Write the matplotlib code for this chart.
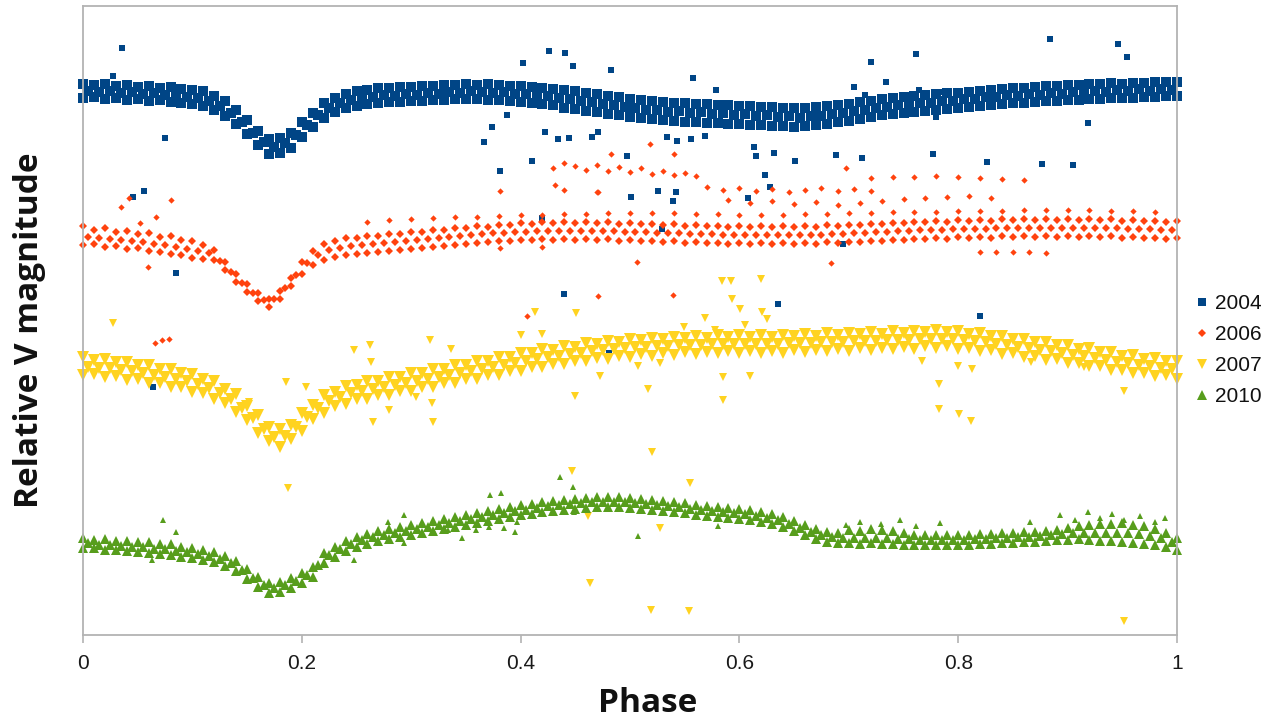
import matplotlib
matplotlib.use("Agg")
import matplotlib.pyplot as plt
from matplotlib.lines import Line2D

# ---------------------------------------------------------------
# Data.
# Phase grid of the dense bands; magnitudes in arbitrary relative
# units (larger = fainter, axis inverted), one curve per season.
# ---------------------------------------------------------------
phase_a = [0.00, 0.01, 0.02, 0.03, 0.04, 0.05, 0.06, 0.07, 0.08, 0.09,
           0.10, 0.11, 0.12, 0.13, 0.14, 0.15, 0.16, 0.17, 0.18, 0.19,
           0.20, 0.21, 0.22, 0.23, 0.24, 0.25, 0.26, 0.27, 0.28, 0.29,
           0.30, 0.31, 0.32, 0.33, 0.34, 0.35, 0.36, 0.37, 0.38, 0.39,
           0.40, 0.41, 0.42, 0.43, 0.44, 0.45, 0.46, 0.47, 0.48, 0.49,
           0.50, 0.51, 0.52, 0.53, 0.54, 0.55, 0.56, 0.57, 0.58, 0.59,
           0.60, 0.61, 0.62, 0.63, 0.64, 0.65, 0.66, 0.67, 0.68, 0.69,
           0.70, 0.71, 0.72, 0.73, 0.74, 0.75, 0.76, 0.77, 0.78, 0.79,
           0.80, 0.81, 0.82, 0.83, 0.84, 0.85, 0.86, 0.87, 0.88, 0.89,
           0.90, 0.91, 0.92, 0.93, 0.94, 0.95, 0.96, 0.97, 0.98, 0.99,
           1.00]
phase_b = [0.005, 0.015, 0.025, 0.035, 0.045, 0.055, 0.065, 0.075, 0.085, 0.095,
           0.105, 0.115, 0.125, 0.135, 0.145, 0.155, 0.165, 0.175, 0.185, 0.195,
           0.205, 0.215, 0.225, 0.235, 0.245, 0.255, 0.265, 0.275, 0.285, 0.295,
           0.305, 0.315, 0.325, 0.335, 0.345, 0.355, 0.365, 0.375, 0.385, 0.395,
           0.405, 0.415, 0.425, 0.435, 0.445, 0.455, 0.465, 0.475, 0.485, 0.495,
           0.505, 0.515, 0.525, 0.535, 0.545, 0.555, 0.565, 0.575, 0.585, 0.595,
           0.605, 0.615, 0.625, 0.635, 0.645, 0.655, 0.665, 0.675, 0.685, 0.695,
           0.705, 0.715, 0.725, 0.735, 0.745, 0.755, 0.765, 0.775, 0.785, 0.795,
           0.805, 0.815, 0.825, 0.835, 0.845, 0.855, 0.865, 0.875, 0.885, 0.895,
           0.905, 0.915, 0.925, 0.935, 0.945, 0.955, 0.965, 0.975, 0.985, 0.995]

# ---- 2004 ----
hi_2004 = [84, 85, 84, 86, 85, 87, 86, 88, 87, 89,
           90, 91, 96, 101, 110, 120, 131, 139, 138, 133,
           122, 113, 103, 98, 94, 91, 90, 88, 88, 87,
           87, 86, 86, 85, 85, 84, 85, 84, 85, 86,
           86, 87, 88, 89, 90, 91, 93, 94, 96, 97,
           99, 100, 101, 102, 103, 103, 104, 104, 105, 105,
           106, 106, 107, 107, 108, 108, 108, 107, 106, 105,
           104, 102, 101, 99, 98, 97, 96, 95, 94, 93,
           93, 92, 91, 90, 89, 88, 88, 87, 86, 86,
           85, 85, 84, 84, 83, 84, 83, 83, 82, 82,
           82]
mid_2004 = [91, 92, 91, 93, 92, 94, 93, 95, 95, 97,
            98, 101, 106, 113, 122, 133, 142, 147, 143, 135,
            125, 115, 108, 103, 100, 98, 97, 95, 96, 94,
            95, 93, 94, 92, 93, 91, 92, 93, 92, 94,
            94, 96, 96, 98, 99, 101, 102, 104, 105, 107,
            108, 110, 110, 112, 111, 113, 112, 114, 113, 115,
            114, 116, 115, 117, 116, 118, 116, 116, 114, 113,
            111, 110, 108, 107, 105, 105, 103, 103, 101, 101,
            99, 99, 97, 97, 95, 96, 94, 95, 93, 94,
            92, 93, 91, 92, 90, 91, 89, 91, 89, 90]
lo_2004 = [98, 97, 99, 98, 100, 99, 101, 100, 102, 103,
           104, 106, 110, 116, 124, 134, 145, 154, 153, 148,
           137, 127, 118, 112, 108, 106, 104, 103, 102, 102,
           101, 101, 100, 100, 99, 99, 99, 100, 100, 101,
           102, 103, 104, 105, 108, 109, 111, 112, 114, 115,
           117, 118, 119, 120, 121, 122, 122, 123, 123, 124,
           124, 125, 125, 126, 126, 127, 126, 125, 124, 122,
           121, 119, 117, 115, 114, 113, 112, 111, 110, 109,
           108, 107, 106, 105, 104, 103, 103, 102, 101, 101,
           100, 100, 99, 99, 98, 98, 98, 97, 97, 96,
           96]
ext_phase_2004 = [0.036, 0.027, 0.075, 0.046, 0.056, 0.085, 0.064, 0.402, 0.426, 0.441,
                  0.448, 0.483, 0.367, 0.374, 0.388, 0.422, 0.434, 0.444, 0.465, 0.471,
                  0.410, 0.381, 0.497, 0.501, 0.420, 0.440, 0.481, 0.884, 0.946, 0.954,
                  0.761, 0.720, 0.558, 0.579, 0.734, 0.705, 0.715, 0.742, 0.764, 0.783,
                  0.919, 0.780, 0.777, 0.712, 0.688, 0.651, 0.632, 0.623, 0.628, 0.613,
                  0.615, 0.608, 0.543, 0.556, 0.569, 0.534, 0.539, 0.542, 0.526, 0.529,
                  0.695, 0.826, 0.877, 0.905, 0.635, 0.820]
ext_mag_2004 = [48, 76, 138, 197, 191, 273, 387, 63, 51, 53,
                66, 70, 142, 127, 115, 132, 139, 138, 137, 132,
                161, 171, 156, 197, 218, 294, 353, 39, 44, 57,
                54, 62, 78, 90, 82, 87, 95, 97, 90, 92,
                123, 117, 154, 158, 155, 161, 153, 175, 187, 147,
                156, 198, 141, 139, 136, 137, 201, 192, 191, 229,
                244, 162, 164, 165, 304, 316]

# ---- 2006 ----
hi_2006 = [226, 230, 228, 232, 231, 234, 233, 237, 236, 240,
           241, 245, 250, 262, 274, 284, 293, 299, 291, 278,
           262, 251, 244, 241, 238, 238, 236, 236, 234, 234,
           232, 232, 230, 230, 228, 228, 226, 227, 225, 225,
           223, 224, 222, 223, 222, 223, 222, 223, 222, 224,
           223, 224, 224, 225, 224, 226, 225, 226, 226, 227,
           226, 227, 226, 227, 226, 227, 226, 227, 225, 226,
           225, 225, 224, 224, 223, 223, 222, 222, 221, 222,
           220, 221, 220, 221, 219, 220, 219, 220, 219, 220,
           219, 220, 219, 220, 219, 221, 220, 221, 221, 222,
           221]
mid_2006 = [237, 238, 239, 240, 241, 242, 244, 245, 247, 249,
            251, 253, 261, 272, 283, 293, 300, 299, 288, 275,
            263, 255, 250, 248, 246, 245, 244, 243, 242, 241,
            240, 239, 238, 237, 236, 235, 234, 233, 233, 232,
            232, 231, 231, 231, 231, 231, 231, 231, 231, 232,
            232, 232, 233, 233, 233, 234, 234, 234, 235, 235,
            235, 235, 235, 235, 235, 235, 235, 235, 234, 234,
            233, 233, 232, 232, 231, 231, 230, 230, 230, 229,
            229, 229, 229, 228, 228, 228, 228, 228, 228, 228,
            228, 228, 228, 228, 228, 229, 229, 229, 230, 230]
lo_2006 = [245, 244, 247, 246, 249, 248, 251, 252, 254, 255,
           258, 259, 260, 270, 282, 292, 301, 307, 299, 286,
           274, 265, 260, 257, 255, 254, 253, 252, 251, 250,
           249, 248, 247, 246, 245, 244, 243, 242, 241, 241,
           240, 240, 239, 240, 239, 240, 239, 240, 239, 241,
           240, 241, 241, 242, 241, 243, 242, 243, 243, 244,
           243, 244, 243, 244, 243, 244, 243, 244, 242, 243,
           242, 242, 241, 241, 240, 240, 239, 239, 238, 239,
           237, 238, 237, 238, 236, 237, 236, 237, 236, 237,
           236, 237, 236, 237, 236, 238, 237, 238, 238, 239,
           238]
ext_phase_2006 = [0.035, 0.042, 0.080, 0.067, 0.052, 0.059, 0.066, 0.072, 0.079, 0.381,
                  0.431, 0.471, 0.483, 0.381, 0.420, 0.471, 0.406, 0.518, 0.540, 0.697,
                  0.506, 0.684, 0.539,
                  0.26, 0.28, 0.30, 0.32, 0.34, 0.36, 0.38, 0.40, 0.42, 0.44,
                  0.46, 0.48, 0.50, 0.52, 0.54, 0.56, 0.58, 0.60, 0.62, 0.64,
                  0.66, 0.68, 0.70, 0.72, 0.74, 0.76, 0.78, 0.80, 0.82, 0.84,
                  0.86, 0.88, 0.90, 0.92, 0.94, 0.96, 0.98,
                  0.43, 0.44, 0.45, 0.46, 0.47, 0.48, 0.49, 0.50, 0.51, 0.52,
                  0.53, 0.54, 0.55, 0.56, 0.72, 0.74, 0.76, 0.78, 0.80, 0.82,
                  0.84, 0.86,
                  0.57, 0.585, 0.60, 0.615, 0.63, 0.645, 0.66, 0.675, 0.69, 0.705,
                  0.72, 0.44, 0.47,
                  0.59, 0.61, 0.63, 0.65, 0.67, 0.69, 0.71, 0.73, 0.75, 0.77,
                  0.79, 0.81, 0.83,
                  0.82, 0.835, 0.85, 0.865, 0.88]
ext_mag_2006 = [207, 198, 200, 217, 223, 267, 343, 340, 339, 191,
                185, 192, 154, 248, 247, 296, 316, 144, 154, 168,
                262, 263, 295,
                222, 220, 219, 218, 217, 217, 216, 215, 215, 214,
                214, 213, 213, 213, 213, 214, 214, 215, 215, 215,
                214, 214, 213, 213, 212, 212, 212, 211, 211, 211,
                210, 210, 210, 210, 211, 211, 212,
                168, 163, 166, 170, 165, 171, 167, 172, 168, 174,
                171, 175, 173, 176, 178, 177, 177, 176, 177, 178,
                179, 180,
                187, 190, 188, 191, 189, 192, 190, 188, 191, 189,
                191, 190, 192,
                200, 203, 201, 204, 202, 205, 203, 201, 199, 198,
                197, 196, 198,
                252, 252, 252, 252, 253]

# ---- 2007 ----
hi_2007 = [357, 360, 359, 362, 362, 365, 365, 369, 369, 373,
           374, 379, 381, 389, 394, 406, 415, 427, 429, 425,
           413, 405, 395, 392, 386, 385, 381, 381, 377, 377,
           373, 373, 369, 369, 365, 365, 361, 361, 357, 357,
           353, 353, 349, 350, 346, 347, 343, 344, 341, 342,
           339, 340, 338, 339, 337, 338, 336, 338, 335, 337,
           335, 337, 335, 337, 335, 336, 334, 336, 333, 335,
           333, 334, 332, 334, 331, 333, 331, 332, 330, 332,
           331, 334, 333, 336, 336, 339, 339, 342, 342, 345,
           345, 349, 348, 352, 352, 356, 355, 359, 358, 361,
           361]
mid_2007 = [367, 368, 368, 370, 371, 373, 375, 377, 379, 381,
            384, 388, 393, 399, 408, 418, 429, 437, 436, 427,
            417, 408, 401, 397, 393, 391, 389, 387, 385, 383,
            381, 379, 377, 375, 373, 371, 369, 367, 365, 363,
            361, 359, 357, 356, 354, 353, 351, 350, 349, 348,
            347, 347, 346, 346, 345, 345, 345, 344, 344, 344,
            344, 344, 344, 344, 343, 343, 343, 342, 342, 342,
            341, 341, 341, 340, 340, 340, 339, 339, 339, 339,
            340, 341, 342, 344, 345, 347, 348, 350, 351, 353,
            355, 356, 358, 360, 362, 363, 365, 366, 368, 369]
lo_2007 = [375, 374, 377, 376, 380, 379, 383, 383, 387, 387,
           392, 393, 399, 403, 412, 420, 433, 441, 447, 439,
           431, 419, 413, 406, 404, 399, 399, 395, 395, 391,
           391, 387, 387, 383, 383, 379, 379, 375, 375, 371,
           371, 367, 367, 364, 364, 361, 361, 358, 359, 356,
           357, 354, 356, 353, 355, 352, 354, 352, 353, 351,
           353, 351, 353, 351, 353, 350, 352, 350, 351, 349,
           351, 348, 350, 348, 349, 347, 349, 346, 348, 346,
           349, 348, 351, 350, 354, 353, 357, 356, 360, 359,
           363, 363, 366, 366, 370, 370, 373, 373, 376, 375,
           379]
ext_phase_2007 = [0.027, 0.248, 0.262, 0.263, 0.317, 0.336, 0.413, 0.400, 0.420, 0.451,
                  0.450, 0.473, 0.280, 0.265, 0.319, 0.320, 0.304, 0.187, 0.186, 0.204,
                  0.152, 0.447, 0.463, 0.462, 0.520, 0.555, 0.519, 0.554, 0.952, 0.516,
                  0.585, 0.585, 0.610, 0.782, 0.782, 0.801, 0.812, 0.800, 0.813, 0.952,
                  0.915, 0.867, 0.767, 0.507, 0.527, 0.527, 0.569, 0.584, 0.592, 0.620,
                  0.593, 0.601, 0.621, 0.625, 0.549, 0.578, 0.605]
ext_mag_2007 = [323, 350, 345, 362, 340, 349, 312, 335, 334, 313,
                396, 376, 410, 422, 403, 422, 397, 488, 382, 387,
                402, 471, 583, 516, 452, 483, 610, 611, 621, 389,
                400, 377, 376, 384, 409, 414, 421, 366, 369, 391,
                367, 362, 361, 366, 363, 528, 318, 281, 281, 279,
                299, 309, 312, 319, 327, 330, 325]

# ---- 2010 ----
hi_2010 = [538, 540, 539, 541, 541, 542, 542, 544, 544, 547,
           548, 550, 552, 556, 561, 569, 577, 583, 582, 578,
           573, 567, 553, 547, 541, 537, 534, 531, 529, 527,
           525, 523, 521, 519, 517, 515, 513, 511, 509, 507,
           505, 504, 502, 501, 500, 499, 498, 497, 497, 497,
           498, 499, 500, 501, 502, 503, 505, 506, 507, 508,
           509, 510, 512, 514, 517, 521, 525, 529, 532, 533,
           530, 531, 529, 530, 531, 533, 535, 535, 535, 535,
           535, 535, 534, 534, 533, 533, 532, 532, 531, 530,
           528, 526, 525, 524, 524, 523, 525, 526, 529, 533,
           538]
mid_2010 = [543, 545, 545, 546, 547, 547, 549, 549, 551, 552,
            554, 556, 559, 563, 570, 578, 585, 588, 585, 581,
            575, 565, 555, 549, 544, 540, 537, 535, 533, 531,
            529, 527, 525, 523, 521, 519, 517, 515, 513, 511,
            510, 508, 506, 505, 504, 503, 502, 502, 502, 502,
            503, 504, 505, 506, 507, 509, 510, 511, 512, 513,
            514, 516, 518, 520, 524, 528, 532, 535, 537, 538,
            538, 538, 538, 538, 539, 539, 540, 540, 540, 540,
            540, 539, 539, 538, 538, 537, 537, 536, 535, 534,
            533, 533, 533, 533, 533, 533, 534, 536, 538, 542]
lo_2010 = [548, 548, 550, 550, 551, 552, 553, 554, 555, 557,
           558, 560, 562, 566, 571, 579, 587, 593, 592, 588,
           583, 577, 563, 557, 551, 547, 544, 541, 539, 537,
           535, 533, 531, 529, 527, 525, 523, 521, 519, 517,
           515, 514, 512, 511, 510, 509, 508, 507, 507, 507,
           508, 509, 510, 511, 512, 513, 515, 516, 517, 518,
           519, 520, 522, 524, 527, 531, 535, 539, 542, 543,
           543, 544, 543, 544, 544, 545, 545, 545, 545, 545,
           545, 545, 544, 544, 543, 543, 542, 542, 541, 540,
           540, 539, 540, 541, 541, 542, 543, 544, 545, 547,
           550]
ext_phase_2010 = [0.073, 0.085, 0.063, 0.248, 0.279, 0.293, 0.293, 0.372, 0.382, 0.436,
                  0.448, 0.321, 0.334, 0.346, 0.359, 0.371, 0.385, 0.395, 0.397, 0.449,
                  0.507, 0.580, 0.866, 0.893, 0.907, 0.919, 0.930, 0.941, 0.952, 0.966,
                  0.980, 0.989, 0.697, 0.710, 0.729, 0.747, 0.761, 0.783]
ext_mag_2010 = [520, 532, 560, 560, 522, 515, 543, 495, 493, 477,
                487, 532, 530, 538, 530, 527, 528, 532, 522, 512,
                536, 526, 522, 515, 520, 512, 518, 514, 520, 516,
                522, 518, 525, 522, 524, 520, 526, 523]

labels = ["2004", "2006", "2007", "2010"]
x_ticks = [0, 0.2, 0.4, 0.6, 0.8, 1]
x_tick_labels = ["0", "0.2", "0.4", "0.6", "0.8", "1"]

# ---------------------------------------------------------------
W, H = 1278, 722
fig = plt.figure(figsize=(W / 100, H / 100), dpi=100)
ax = fig.add_axes([83 / W, (H - 635) / H, 1094 / W, 629 / H])

# band marker size / isolated-point marker size (points)
styles = {
    "2004": dict(marker="s", color="#004586", ms=7.8, ms_ext=4.4),
    "2006": dict(marker="D", color="#ff420e", ms=4.1, ms_ext=3.2),
    "2007": dict(marker="v", color="#ffd320", ms=8.8, ms_ext=5.2),
    "2010": dict(marker="^", color="#579d1c", ms=7.2, ms_ext=5.0),
}
bands = {
    "2004": (hi_2004, mid_2004, lo_2004, ext_phase_2004, ext_mag_2004),
    "2006": (hi_2006, mid_2006, lo_2006, ext_phase_2006, ext_mag_2006),
    "2007": (hi_2007, mid_2007, lo_2007, ext_phase_2007, ext_mag_2007),
    "2010": (hi_2010, mid_2010, lo_2010, ext_phase_2010, ext_mag_2010),
}

for lab in labels:
    st = styles[lab]
    hi, mid, lo, ep, em = bands[lab]
    kw = dict(ls="none", marker=st["marker"], mew=0,
              color=st["color"], clip_on=False)
    ax.plot(phase_a, hi, ms=st["ms"], **kw)
    ax.plot(phase_b, mid, ms=st["ms"], **kw)
    ax.plot(phase_a, lo, ms=st["ms"], **kw)
    ax.plot(ep, em, ms=st["ms_ext"], **kw)

ax.set_xlim(0, 1)
ax.set_ylim(635, 6)

frame_col = "#b3b3b3"
for sp in ax.spines.values():
    sp.set_color(frame_col)
    sp.set_linewidth(1.3)

ax.set_yticks([])
ax.set_xticks(x_ticks)
ax.set_xticklabels(x_tick_labels, fontfamily="Liberation Sans", fontsize=15,
                   color="#1a1a1a")
ax.tick_params(axis="x", direction="out", length=6, width=1.2,
               color=frame_col, pad=8)

fig.text(648 / W, (H - 703) / H, "Phase", fontfamily="Open Sans",
         fontweight="bold", fontsize=24, ha="center", va="center",
         color="#111111")
fig.text(30 / W, (H - 330) / H, "Relative V magnitude", fontfamily="Open Sans",
         fontweight="bold", fontsize=24, ha="center", va="center",
         rotation=90, color="#111111")

handles = [Line2D([], [], ls="none", marker=styles[l]["marker"],
                  color=styles[l]["color"], mew=0,
                  ms=styles[l]["ms_ext"] * 1.35) for l in labels]
leg = fig.legend(handles, labels, loc="center left",
                 bbox_to_anchor=(1185 / W, (H - 350) / H),
                 frameon=False, handlelength=0.6, handletextpad=0.35,
                 labelspacing=0.58, borderpad=0,
                 prop=dict(family="Liberation Sans", size=15))
for t in leg.get_texts():
    t.set_color("#111111")

fig.savefig("out.png", dpi=100, facecolor="white")
